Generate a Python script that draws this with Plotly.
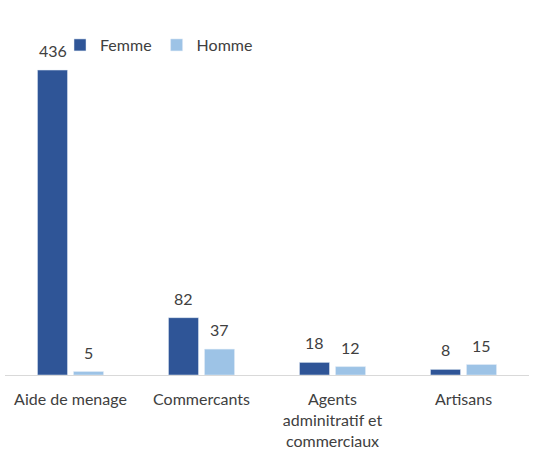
import plotly.graph_objects as go

categories = ["Aide de menage", "Commercants", "Agents<br>adminitratif et<br>commerciaux", "Artisans"]
femme = [436, 82, 18, 8]
homme = [5, 37, 12, 15]

font_family = "Lato, 'Open Sans', sans-serif"
text_color = "#404040"
colors = {"Femme": "#2F5597", "Homme": "#9DC3E6"}

fig = go.Figure()
fig.add_trace(go.Bar(x=categories, y=femme, name="Femme", marker_color=colors["Femme"]))
fig.add_trace(go.Bar(x=categories, y=homme, name="Homme", marker_color=colors["Homme"]))

# value labels above each bar, offset sideways to sit on its own bar in the group
for values, dx in ((femme, -18), (homme, 18)):
    for cat, v in zip(categories, values):
        fig.add_annotation(
            x=cat, y=v, text=str(v), showarrow=False,
            xshift=dx, yshift=8, yanchor="bottom",
            font=dict(size=16, color=text_color, family=font_family),
        )

fig.update_layout(
    width=534, height=450,
    margin=dict(l=5, r=5, t=40, b=75, autoexpand=False),
    barmode="group",
    bargap=0.45,
    bargroupgap=1 / 6,
    plot_bgcolor="white",
    paper_bgcolor="white",
    font=dict(family=font_family, size=16, color=text_color),
    showlegend=True,
    legend=dict(
        orientation="h", x=0.105, y=0.985, xanchor="left", yanchor="middle",
        font=dict(size=16, color=text_color),
        traceorder="normal", bgcolor="rgba(0,0,0,0)",
    ),
)
fig.update_xaxes(
    showline=True, linecolor="#D9D9D9", linewidth=1,
    showgrid=False, ticks="", ticklabelstandoff=10, automargin=False,
    tickfont=dict(size=16, color=text_color),
)
fig.update_yaxes(range=[0, 479], visible=False, showgrid=False, automargin=False)

fig.write_html("out.html")
